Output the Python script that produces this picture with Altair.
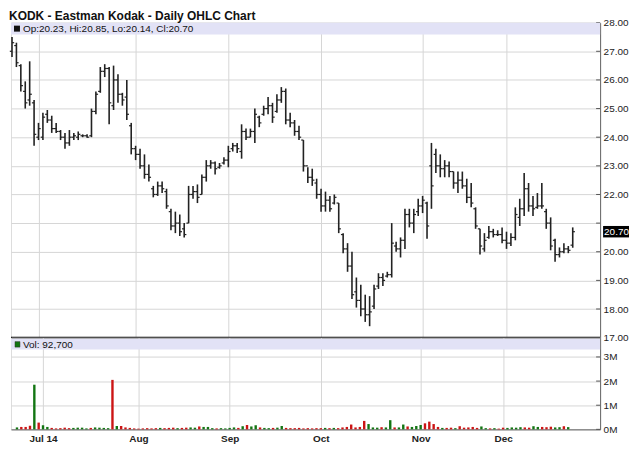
import altair as alt
import pandas as pd

highs = [27.5, 27.3, 26.55, 25.95, 26.65, 25.3, 24.5, 24.85, 24.95, 24.75, 24.5, 24.25, 24.15, 24.25, 24.15, 24.2,
         24.1, 24.1, 25.0, 25.6, 26.45, 26.55, 26.45, 26.5, 26.2, 25.55, 26.0, 24.5, 23.7, 23.6, 23.4, 23.05,
         22.3, 22.45, 22.45, 22.2, 21.5, 21.4, 21.3, 21.0, 22.3, 22.3, 22.35, 22.7, 23.2, 23.2, 23.15, 23.1,
         23.3, 23.7, 23.8, 23.8, 24.45, 24.3, 24.3, 25.0, 24.75, 25.1, 25.4, 25.2, 25.5, 25.75, 25.7, 24.85,
         24.6, 24.4, 23.9, 22.95, 22.9, 22.55, 22.2, 22.1, 21.95, 22.0, 21.7, 20.65, 20.3, 20.0, 19.1, 18.85,
         18.5, 18.45, 18.85, 19.25, 19.25, 19.3, 21.0, 20.35, 20.5, 21.5, 21.5, 21.5, 21.85, 21.95, 21.75, 23.8,
         23.6, 23.4, 23.2, 23.15, 22.8, 22.8, 22.8, 22.55, 22.4, 21.55, 20.8, 20.65, 20.9, 20.8, 20.75, 20.85,
         20.7, 20.65, 21.55, 21.85, 22.75, 22.4, 21.95, 22.05, 22.4, 21.5, 21.2, 20.45, 20.15, 20.3, 20.2, 20.85]
lows = [26.8, 26.45, 25.6, 25.0, 25.1, 23.7, 23.9, 23.9, 24.5, 24.15, 24.15, 23.9, 23.6, 23.7, 23.9, 23.9,
        24.0, 23.98, 24.0, 24.8, 25.55, 26.1, 24.45, 24.95, 25.2, 25.1, 24.6, 23.4, 23.2, 22.9, 22.55, 22.45,
        21.9, 21.95, 22.05, 21.5, 20.75, 20.65, 20.55, 20.5, 21.0, 21.85, 21.7, 22.0, 22.45, 22.9, 22.7, 22.9,
        23.05, 22.95, 23.5, 23.45, 23.25, 23.9, 24.0, 23.8, 24.35, 24.75, 24.8, 24.5, 24.85, 25.2, 24.45, 24.35,
        24.05, 23.9, 22.8, 22.4, 22.3, 21.85, 21.4, 21.4, 21.4, 21.65, 20.65, 19.95, 19.3, 18.35, 18.05, 17.75,
        17.55, 17.4, 18.0, 18.7, 18.8, 19.1, 19.1, 20.0, 19.8, 20.1, 20.85, 20.65, 21.25, 21.35, 20.45, 21.5,
        22.75, 22.6, 22.6, 22.6, 22.2, 22.05, 22.2, 21.7, 21.55, 20.8, 19.9, 20.0, 20.45, 20.5, 20.55, 20.3,
        20.1, 20.2, 20.4, 20.9, 21.25, 21.4, 21.25, 21.5, 21.5, 20.8, 20.05, 19.65, 19.8, 19.95, 19.95, 20.14]
opens = [27.0, 27.2, 26.5, 25.6, 25.3, 25.2, 24.0, 24.0, 24.8, 24.6, 24.3, 24.2, 24.0, 23.8, 24.0, 24.0,
         24.05, 24.05, 24.05, 24.9, 25.6, 26.3, 26.4, 25.1, 26.0, 25.5, 25.4, 24.4, 23.6, 23.4, 23.0, 22.7,
         22.2, 22.0, 22.3, 22.1, 21.4, 20.9, 21.0, 20.8, 21.0, 22.0, 22.1, 22.0, 22.6, 23.0, 23.1, 22.95,
         23.1, 23.2, 23.6, 23.7, 23.5, 24.2, 24.0, 24.2, 24.7, 24.8, 25.0, 25.1, 24.9, 25.3, 25.6, 24.6,
         24.5, 24.2, 23.9, 23.0, 22.6, 22.4, 22.0, 21.6, 21.8, 21.7, 21.7, 20.6, 20.1, 19.5, 18.6, 18.3,
         18.0, 17.8, 18.1, 18.8, 19.1, 19.15, 19.2, 20.2, 20.1, 20.4, 21.3, 21.0, 21.4, 21.6, 21.7, 23.0,
         23.4, 23.0, 22.9, 23.0, 22.8, 22.4, 22.5, 22.3, 21.9, 21.5, 20.8, 20.1, 20.5, 20.7, 20.6, 20.6,
         20.4, 20.3, 20.5, 21.2, 21.5, 22.2, 21.6, 21.55, 21.6, 21.4, 21.0, 20.4, 19.9, 20.0, 20.1, 20.23]
closes = [27.3, 26.6, 25.8, 25.2, 25.5, 24.1, 24.3, 24.7, 24.6, 24.3, 24.2, 24.0, 23.8, 24.0, 24.05, 24.1,
          24.05, 24.0, 24.9, 25.5, 26.3, 26.4, 25.2, 26.0, 25.5, 25.3, 24.8, 23.6, 23.4, 23.0, 22.7, 22.6,
          22.0, 22.3, 22.2, 21.6, 20.9, 21.0, 20.7, 20.6, 22.0, 22.1, 21.9, 22.6, 23.0, 23.1, 22.9, 23.0,
          23.2, 23.5, 23.7, 23.6, 24.2, 24.0, 24.2, 24.8, 24.5, 25.0, 25.1, 24.7, 25.3, 25.6, 24.6, 24.5,
          24.2, 24.0, 23.0, 22.6, 22.5, 22.0, 21.6, 21.8, 21.5, 21.9, 20.8, 20.1, 19.5, 18.5, 18.3, 18.0,
          17.8, 17.9, 18.7, 19.1, 19.0, 19.2, 20.3, 20.1, 20.4, 21.3, 21.0, 21.3, 21.6, 21.8, 20.9, 22.3,
          23.0, 22.9, 23.0, 22.8, 22.4, 22.5, 22.3, 21.9, 21.7, 20.9, 20.2, 20.4, 20.7, 20.6, 20.6, 20.4,
          20.3, 20.5, 21.3, 21.5, 22.2, 21.6, 21.5, 21.6, 21.6, 21.0, 20.2, 19.9, 20.0, 20.1, 20.05, 20.70]
volumes = [0.08, 0.1, 0.1, 0.15, 1.85, 0.28, 0.17, 0.1, 0.06, 0.04, 0.05, 0.07, 0.05, 0.06, 0.07, 0.07,
           0.04, 0.06, 0.08, 0.07, 0.06, 0.05, 2.05, 0.14, 0.14, 0.08, 0.06, 0.04, 0.03, 0.04, 0.05, 0.04,
           0.05, 0.06, 0.05, 0.06, 0.07, 0.05, 0.06, 0.07, 0.08, 0.07, 0.12, 0.1, 0.1, 0.05, 0.04, 0.05,
           0.04, 0.06, 0.08, 0.06, 0.13, 0.18, 0.12, 0.17, 0.08, 0.06, 0.05, 0.06, 0.07, 0.14, 0.06, 0.05,
           0.05, 0.06, 0.04, 0.05, 0.04, 0.05, 0.05, 0.06, 0.05, 0.06, 0.05, 0.08, 0.1, 0.2, 0.08, 0.1,
           0.35, 0.22, 0.08, 0.07, 0.09, 0.08, 0.38, 0.08, 0.08, 0.2, 0.12, 0.1, 0.14, 0.18, 0.25, 0.32,
           0.22, 0.1, 0.06, 0.06, 0.07, 0.05, 0.13, 0.07, 0.08, 0.1, 0.06, 0.12, 0.05, 0.04, 0.05, 0.03,
           0.07, 0.06, 0.08, 0.07, 0.09, 0.08, 0.07, 0.13, 0.1, 0.1, 0.09, 0.11, 0.08, 0.09, 0.13, 0.0927]

month_idx = [6, 28, 49, 70, 93, 112]
month_labels = ["Jul 14", "Aug", "Sep", "Oct", "Nov", "Dec"]
price_ticks = [17, 18, 19, 20, 21, 22, 23, 24, 25, 26, 27, 28]
vol_ticks = [0, 1, 2, 3]
title_text = "KODK - Eastman Kodak - Daily OHLC Chart"

W = 591
PH = 316
VH = 92
FONT = "Liberation Sans"
GREEN = "#127512"
RED = "#cc1414"
BAND = "#e2e2f6"
GRID = "#d6d6d6"

df = pd.DataFrame({"i": list(range(len(highs))), "h": highs, "l": lows,
                   "o": opens, "c": closes, "v": volumes})
df["dir"] = ["up" if c >= o else "down" for o, c in zip(opens, closes)]
last = df.iloc[[-1]].copy()

xscale = alt.Scale(domain=[-0.23, 133.2], nice=False, zero=False)
yscale = alt.Scale(domain=[17, 28], nice=False, zero=False)
vscale = alt.Scale(domain=[0, 3.8], nice=False, zero=False)

lab_expr = "[" + ",".join("'%s'" % s for s in month_labels) + "][indexof([" + \
    ",".join(str(v) for v in month_idx) + "], datum.value)]"

x_price_axis = alt.Axis(values=month_idx, tickCount=len(month_idx), grid=True, labels=False,
                        ticks=False, domain=False, title=None, gridColor=GRID)
y_price_axis = alt.Axis(orient="right", values=price_ticks, tickCount=len(price_ticks),
                        grid=True, gridColor=GRID,
                        tickSize=0, labelPadding=3, labelFont=FONT, labelFontSize=10,
                        labelColor="#222", domainColor="#666", title=None, labelFlush=False,
                        labelOverlap=False,
                        labelExpr="datum.value == 21 ? '' : format(datum.value, '.2f')")

one = pd.DataFrame({"a": [0]})

hl = alt.Chart(df).mark_rule(color="#222", strokeWidth=1.6).encode(
    x=alt.X("i:Q", scale=xscale, axis=x_price_axis),
    y=alt.Y("l:Q", scale=yscale, axis=y_price_axis),
    y2="h:Q")
op = alt.Chart(df).mark_rule(color="#222", strokeWidth=1.2, xOffset=-2.2, x2Offset=0).encode(
    x=alt.X("i:Q", axis=x_price_axis), x2="i:Q", y=alt.Y("o:Q", axis=y_price_axis))
cl = alt.Chart(df).mark_rule(color="#222", strokeWidth=1.2, xOffset=0, x2Offset=2.2).encode(
    x=alt.X("i:Q", axis=x_price_axis), x2="i:Q", y=alt.Y("c:Q", axis=y_price_axis))
pticks = alt.Chart(pd.DataFrame({"t": price_ticks})).mark_rule(color="#555").encode(
    x=alt.value(W - 4), x2=alt.value(W), y=alt.Y("t:Q", axis=y_price_axis))

band_text = "Op:%.2f, Hi:%.2f, Lo:%.2f, Cl:%.2f" % (opens[-1], highs[-1], lows[-1], closes[-1])
pband = alt.Chart(one).mark_rect(color=BAND).encode(
    x=alt.value(0), x2=alt.value(W), y=alt.value(0), y2=alt.value(12))
psq = alt.Chart(one).mark_rect(color="#111").encode(
    x=alt.value(3), x2=alt.value(9), y=alt.value(3), y2=alt.value(9))
ptxt = alt.Chart(one).mark_text(align="left", baseline="middle", font=FONT, fontSize=10,
                                color="#111").encode(
    x=alt.value(12), y=alt.value(6.5), text=alt.value(band_text))
ttl = alt.Chart(one).mark_text(align="left", baseline="top", font=FONT, fontSize=12,
                               fontWeight="bold", color="#111").encode(
    x=alt.value(-2), y=alt.value(-12), text=alt.value(title_text))
sep = alt.Chart(one).mark_rule(color="#000", strokeWidth=2).encode(
    x=alt.value(0), x2=alt.value(W), y=alt.value(PH))

cur_box = alt.Chart(last).transform_calculate(
    lo="datum.c - 0.2", hi="datum.c + 0.2").mark_rect(color="#000").encode(
    x=alt.value(W + 3), x2=alt.value(W + 29), y=alt.Y("lo:Q", axis=y_price_axis), y2="hi:Q")
cur_txt = alt.Chart(last).mark_text(align="left", baseline="middle", font=FONT, fontSize=10,
                                    color="#fff").encode(
    x=alt.value(W + 4), y=alt.Y("c:Q", axis=y_price_axis), text=alt.Text("c:Q", format=".2f"))

price = alt.layer(hl, op, cl, pticks, pband, psq, ptxt, ttl, sep, cur_box, cur_txt).properties(
    width=W, height=PH)

x_vol_axis = alt.Axis(values=month_idx, tickCount=len(month_idx), grid=True, gridColor=GRID,
                      ticks=False, domain=True,
                      domainColor="#666", labelExpr=lab_expr, labelFont=FONT, labelFontSize=10,
                      labelFontWeight="bold", labelColor="#222", labelPadding=4, title=None,
                      labelFlush=False, labelOverlap=False)
y_vol_axis = alt.Axis(orient="right", values=vol_ticks, tickCount=len(vol_ticks), grid=True,
                      gridColor=GRID,
                      tickSize=0, labelPadding=3, labelFont=FONT, labelFontSize=10,
                      labelColor="#222", domainColor="#666", title=None, labelFlush=False,
                      labelOverlap=False, labelExpr="datum.value + 'M'")

vbars = alt.Chart(df).mark_bar(size=2.4).encode(
    x=alt.X("i:Q", scale=xscale, axis=x_vol_axis),
    y=alt.Y("v:Q", scale=vscale, axis=y_vol_axis),
    color=alt.Color("dir:N", scale=alt.Scale(domain=["up", "down"], range=[GREEN, RED]),
                    legend=None))
vticks = alt.Chart(pd.DataFrame({"t": vol_ticks})).mark_rule(color="#555").encode(
    x=alt.value(W - 4), x2=alt.value(W), y=alt.Y("t:Q", axis=y_vol_axis))
vol_text = "Vol: {:,}".format(int(round(volumes[-1] * 1e6)))
vband = alt.Chart(one).mark_rect(color=BAND).encode(
    x=alt.value(0), x2=alt.value(W), y=alt.value(1), y2=alt.value(12))
vsq = alt.Chart(one).mark_rect(color=GREEN, stroke="#333", strokeWidth=0.5).encode(
    x=alt.value(4), x2=alt.value(9), y=alt.value(4), y2=alt.value(9.5))
vtxt = alt.Chart(one).mark_text(align="left", baseline="middle", font=FONT, fontSize=10,
                                color="#111").encode(
    x=alt.value(12), y=alt.value(7), text=alt.value(vol_text))

volume = alt.layer(vbars, vticks, vband, vsq, vtxt).properties(width=W, height=VH)

chart = alt.vconcat(price, volume, spacing=0, bounds="flush").properties(
    padding={"left": 0, "top": 0, "right": 2, "bottom": 2},
).configure_view(stroke="#000", strokeWidth=1).configure(background="#ffffff")

chart.save("out.html", embed_options={"renderer": "svg", "actions": False})
